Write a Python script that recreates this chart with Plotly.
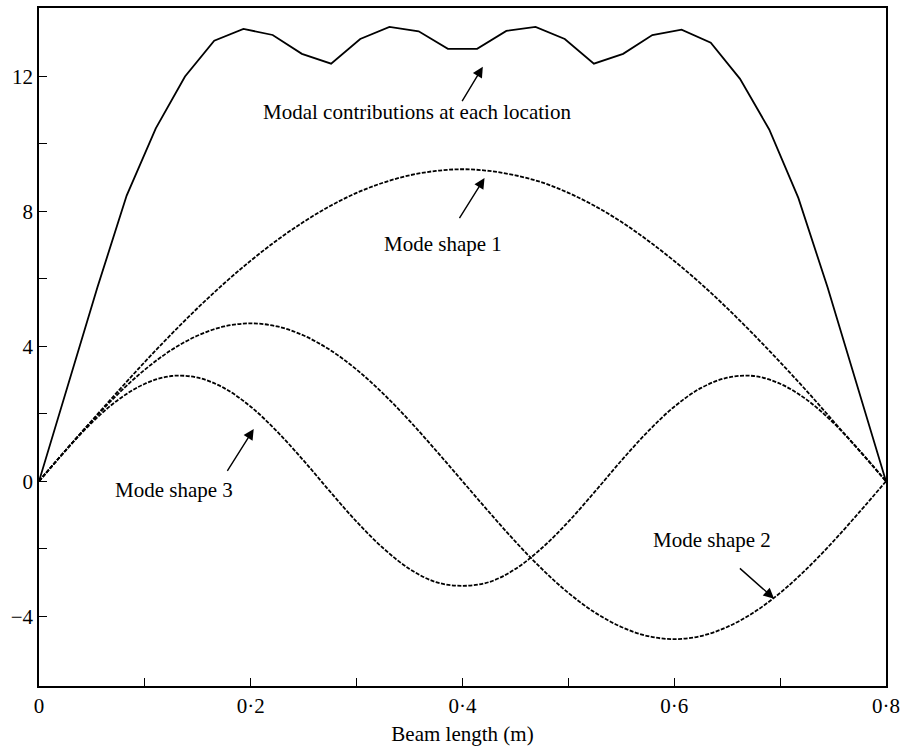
import plotly.graph_objects as go

# Measurement stations along the beam (m) and the summed modal contribution at each
station_x = [0.0, 0.0276, 0.0552, 0.0828, 0.1103, 0.1379, 0.1655, 0.1931, 0.2207, 0.2483,
             0.2759, 0.3034, 0.3310, 0.3586, 0.3862, 0.4138, 0.4414, 0.4690, 0.4966, 0.5241,
             0.5517, 0.5793, 0.6069, 0.6345, 0.6621, 0.6897, 0.7172, 0.7448, 0.7724, 0.8]
modal_contrib = [0.0, 2.90, 5.75, 8.47, 10.46, 12.00, 13.06, 13.41, 13.23, 12.67,
                 12.38, 13.11, 13.47, 13.34, 12.82, 12.82, 13.35, 13.47, 13.11, 12.38,
                 12.67, 13.23, 13.39, 13.00, 11.93, 10.43, 8.40, 5.75, 2.90, 0.0]

# Mode shapes sampled along the beam
beam_x = [0.0, 0.025, 0.05, 0.075, 0.1, 0.125, 0.15, 0.175, 0.2, 0.225, 0.25, 0.275,
          0.3, 0.325, 0.35, 0.375, 0.4, 0.425, 0.45, 0.475, 0.5, 0.525, 0.55, 0.575,
          0.6, 0.625, 0.65, 0.675, 0.7, 0.725, 0.75, 0.775, 0.8]
mode1 = [0.0, 0.91, 1.80, 2.68, 3.54, 4.36, 5.14, 5.87, 6.54, 7.15, 7.69, 8.16,
         8.55, 8.85, 9.07, 9.20, 9.25, 9.20, 9.07, 8.86, 8.55, 8.16, 7.69, 7.14,
         6.53, 5.86, 5.13, 4.35, 3.53, 2.68, 1.79, 0.90, 0.0]
mode2 = [0.0, 0.91, 1.79, 2.60, 3.31, 3.89, 4.32, 4.59, 4.68, 4.59, 4.32, 3.89,
         3.31, 2.60, 1.79, 0.91, 0.0, -0.91, -1.79, -2.60, -3.31, -3.89, -4.32, -4.59,
         -4.68, -4.59, -4.32, -3.89, -3.31, -2.60, -1.79, -0.91, 0.0]
mode3 = [0.0, 0.91, 1.74, 2.42, 2.89, 3.12, 3.07, 2.76, 2.21, 1.47, 0.61, -0.31,
         -1.20, -1.98, -2.60, -2.99, -3.10, -2.99, -2.60, -1.98, -1.20, -0.31, 0.61, 1.47,
         2.21, 2.76, 3.07, 3.12, 2.89, 2.42, 1.74, 0.91, 0.0]

x_tickvals = [0, 0.2, 0.4, 0.6, 0.8]
x_ticktext = ["0", "0·2", "0·4", "0·6", "0·8"]
y_tickvals = [-4, 0, 4, 8, 12]

FONT = "Liberation Serif, Times New Roman, serif"

fig = go.Figure()

for ys in (mode1, mode2, mode3):
    fig.add_trace(go.Scatter(
        x=beam_x, y=ys, mode="lines", line_shape="spline",
        line=dict(color="black", width=1.8, dash="4px,1.5px"),
        showlegend=False, hoverinfo="skip"))

fig.add_trace(go.Scatter(
    x=station_x, y=modal_contrib, mode="lines",
    line=dict(color="black", width=1.8),
    showlegend=False))

# Labels and pointer arrows
labels = [
    ("Modal contributions at each location", 0.3571, 10.96),
    ("Mode shape 1", 0.3814, 7.03),
    ("Mode shape 3", 0.1274, -0.27),
    ("Mode shape 2", 0.6354, -1.75),
]
for text, lx, ly in labels:
    fig.add_annotation(x=lx, y=ly, text=text, showarrow=False,
                       font=dict(family=FONT, size=21, color="black"),
                       xanchor="center", yanchor="middle")

arrows = [
    (0.4192, 12.29, -21.6, 36.0),
    (0.4208, 8.99, -26.0, 41.6),
    (0.2028, 1.55, -27.3, 43.4),
    (0.6943, -3.48, -35.7, -31.6),
]
for hx, hy, ax, ay in arrows:
    fig.add_annotation(x=hx, y=hy, ax=ax, ay=ay, text="", showarrow=True,
                       arrowhead=2, arrowsize=1.5, arrowwidth=1.4,
                       arrowcolor="black", standoff=0)

axis_common = dict(
    showgrid=False, zeroline=False, showline=True, mirror=True,
    linecolor="black", linewidth=1.6,
    ticks="inside", ticklen=8, tickwidth=1.4, tickcolor="black",
    tickfont=dict(family=FONT, size=21, color="black"),
)

fig.update_xaxes(
    range=[0, 0.8], tickvals=x_tickvals, ticktext=x_ticktext,
    minor=dict(ticks="inside", ticklen=8, tickwidth=1.4, tickcolor="black",
               tickvals=[0.1, 0.3, 0.5, 0.7]),
    title=dict(text="Beam length (m)", font=dict(family=FONT, size=21, color="black"),
               standoff=9),
    **axis_common)
fig.update_yaxes(
    range=[-6.07, 14.03], tickvals=y_tickvals,
    minor=dict(ticks="inside", ticklen=8, tickwidth=1.4, tickcolor="black",
               tickvals=[-2, 2, 6, 10]),
    **axis_common)

fig.update_layout(
    width=906, height=751,
    margin=dict(l=39, r=19, t=6, b=65),
    plot_bgcolor="white", paper_bgcolor="white",
    font=dict(family=FONT, size=21, color="black"),
)

fig.write_html("out.html")
